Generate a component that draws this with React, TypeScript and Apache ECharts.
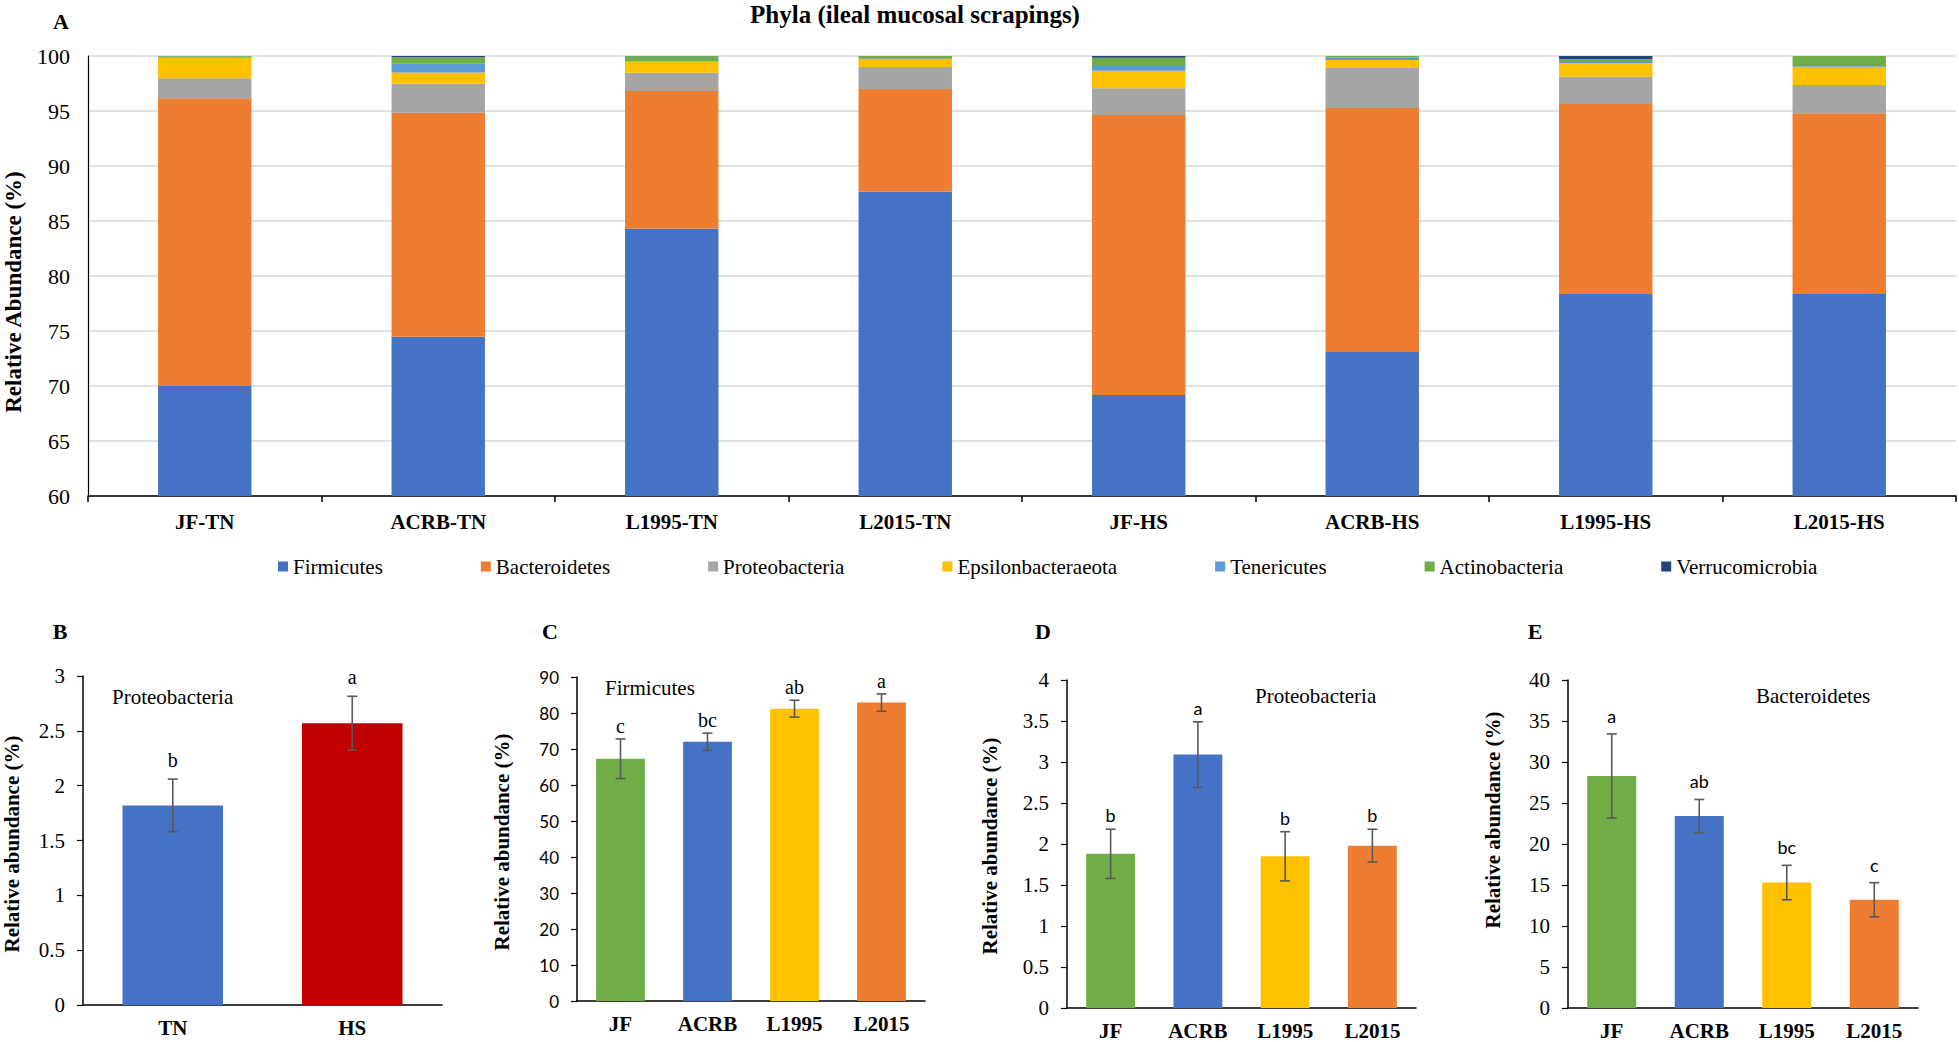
import React, { useEffect, useRef } from "react";
import * as echarts from "echarts";

// ---------- Panel A data ----------
const categoriesA = ["JF-TN", "ACRB-TN", "L1995-TN", "L2015-TN", "JF-HS", "ACRB-HS", "L1995-HS", "L2015-HS"];
const phylaNames = ["Firmicutes", "Bacteroidetes", "Proteobacteria", "Epsilonbacteraeota", "Tenericutes", "Actinobacteria", "Verrucomicrobia"];
const firmicutes = [70.0, 74.48, 84.3, 87.67, 69.18, 73.09, 78.36, 78.36];
const bacteroidetes = [26.15, 20.37, 12.52, 9.33, 25.46, 22.18, 17.28, 16.43];
const proteobacteria = [1.82, 2.63, 1.66, 2.0, 2.42, 3.64, 2.48, 2.57];
const epsilonbacteraeota = [1.87, 1.03, 1.0, 0.73, 1.6, 0.73, 1.24, 1.67];
const tenericutes = [0.1, 0.82, 0.02, 0.02, 0.52, 0.24, 0.18, 0.15];
const actinobacteria = [0.06, 0.57, 0.5, 0.25, 0.67, 0.12, 0.16, 0.82];
const verrucomicrobia = [0, 0.1, 0, 0, 0.15, 0, 0.3, 0];
const phylaSeries = [firmicutes, bacteroidetes, proteobacteria, epsilonbacteraeota, tenericutes, actinobacteria, verrucomicrobia];
const yTicksA = { min: 60, max: 100, interval: 5 };

// ---------- Panel B data ----------
const categoriesB = ["TN", "HS"];
const valuesB = [1.82, 2.57];
const errorsB = [0.24, 0.245];
const lettersB = ["b", "a"];

// ---------- Panels C, D, E data ----------
const categoriesCDE = ["JF", "ACRB", "L1995", "L2015"];
const valuesC = [67.3, 72.0, 81.2, 82.9];
const errorsC = [5.5, 2.4, 2.35, 2.4];
const lettersC = ["c", "bc", "ab", "a"];
const valuesD = [1.88, 3.09, 1.85, 1.98];
const errorsD = [0.3, 0.4, 0.3, 0.2];
const lettersD = ["b", "a", "b", "b"];
const valuesE = [28.3, 23.4, 15.3, 13.2];
const errorsE = [5.13, 2.03, 2.1, 2.08];
const lettersE = ["a", "ab", "bc", "c"];

// ---------- styles ----------
const phylaColors = ["#4472C4", "#ED7D31", "#A5A5A5", "#FFC000", "#5B9BD5", "#70AD47", "#264478"];
const colorsB = ["#4472C4", "#C00000"];
const colorsCDE = ["#70AD47", "#4472C4", "#FFC000", "#ED7D31"];
const SERIF = '"Liberation Serif", "Times New Roman", serif';
const SANS = 'Lato, "Noto Sans", sans-serif';

function buildOption() {
  const grid: any[] = [
    { left: 88, top: 56, width: 1868, height: 440 },
    { left: 83, top: 676, width: 359, height: 329 },
    { left: 577, top: 677, width: 348, height: 324 },
    { left: 1067, top: 680, width: 349, height: 328 },
    { left: 1568, top: 680, width: 350, height: 328 },
  ].map((g) => ({ ...g, containLabel: false, outerBoundsMode: "none" }));

  const xAxis: any[] = [
    {
      type: "category",
      gridIndex: 0,
      data: categoriesA,
      axisLine: { show: true, lineStyle: { color: "#000", width: 1.5 } },
      axisTick: { show: true, length: 6, lineStyle: { color: "#000", width: 1.5 } },
      axisLabel: { interval: 0, margin: 15, fontFamily: SERIF, fontWeight: "bold", fontSize: 21, color: "#000" },
      splitLine: { show: false },
    },
  ];
  const yAxis: any[] = [
    {
      type: "value",
      gridIndex: 0,
      min: yTicksA.min,
      max: yTicksA.max,
      interval: yTicksA.interval,
      axisLine: { show: true, lineStyle: { color: "#000", width: 1.2 } },
      axisTick: { show: false },
      axisLabel: { margin: 18, fontFamily: SERIF, fontSize: 22, color: "#000" },
      splitLine: { show: true, lineStyle: { color: "#D9D9D9", width: 1.5 } },
    },
  ];

  const series: any[] = phylaSeries.map((vals, i) => ({
    type: "bar",
    name: phylaNames[i],
    xAxisIndex: 0,
    yAxisIndex: 0,
    stack: "phyla",
    barWidth: "40%",
    data: vals,
    itemStyle: { color: phylaColors[i] },
  }));

  const panels = [
    { cats: categoriesB, vals: valuesB, errs: errorsB, letters: lettersB, colors: colorsB, max: 3, interval: 0.5, tickFont: SERIF, tickSize: 21, letterFont: SERIF, letterSize: 20, letterOffset: 19 },
    { cats: categoriesCDE, vals: valuesC, errs: errorsC, letters: lettersC, colors: colorsCDE, max: 90, interval: 10, tickFont: SANS, tickSize: 17, letterFont: SERIF, letterSize: 20, letterOffset: 13 },
    { cats: categoriesCDE, vals: valuesD, errs: errorsD, letters: lettersD, colors: colorsCDE, max: 4, interval: 0.5, tickFont: SERIF, tickSize: 21, letterFont: SANS, letterSize: 18, letterOffset: 14 },
    { cats: categoriesCDE, vals: valuesE, errs: errorsE, letters: lettersE, colors: colorsCDE, max: 40, interval: 5, tickFont: SERIF, tickSize: 21, letterFont: SANS, letterSize: 18, letterOffset: 18 },
  ];

  panels.forEach((p, k) => {
    const gi = k + 1;
    xAxis.push({
      type: "category",
      gridIndex: gi,
      data: p.cats,
      axisLine: { show: true, lineStyle: { color: "#000", width: 1.5 } },
      axisTick: { show: false },
      axisLabel: { interval: 0, margin: 12, fontFamily: SERIF, fontWeight: "bold", fontSize: 21, color: "#000" },
      splitLine: { show: false },
    });
    yAxis.push({
      type: "value",
      gridIndex: gi,
      min: 0,
      max: p.max,
      interval: p.interval,
      axisLine: { show: true, lineStyle: { color: "#000", width: 1.5 } },
      axisTick: { show: true, length: 6, lineStyle: { color: "#000", width: 1.2 } },
      axisLabel: { margin: 18, fontFamily: p.tickFont, fontSize: p.tickSize, color: "#000" },
      splitLine: { show: false },
    });
    series.push({
      type: "bar",
      xAxisIndex: gi,
      yAxisIndex: gi,
      barWidth: "56%",
      data: p.vals.map((v, j) => ({ value: v, itemStyle: { color: p.colors[j] } })),
    });
    series.push({
      type: "custom",
      xAxisIndex: gi,
      yAxisIndex: gi,
      z: 5,
      data: p.vals.map((v, j) => [j, v, p.errs[j]]),
      encode: { x: 0, y: 1 },
      renderItem: (params: any, api: any) => {
        const idx = api.value(0);
        const v = api.value(1);
        const e = api.value(2);
        const top = api.coord([idx, v + e]);
        const bot = api.coord([idx, v - e]);
        const x = top[0];
        const st = { stroke: "#595959", lineWidth: 1.6 };
        return {
          type: "group",
          children: [
            { type: "line", shape: { x1: x, y1: top[1], x2: x, y2: bot[1] }, style: st },
            { type: "line", shape: { x1: x - 5, y1: top[1], x2: x + 5, y2: top[1] }, style: st },
            { type: "line", shape: { x1: x - 5, y1: bot[1], x2: x + 5, y2: bot[1] }, style: st },
            {
              type: "text",
              x: x,
              y: top[1] - p.letterOffset,
              style: {
                text: p.letters[params.dataIndex],
                fontFamily: p.letterFont,
                fontSize: p.letterSize,
                fill: "#000",
                align: "center",
                verticalAlign: "middle",
              },
            },
          ],
        };
      },
    });
  });

  const txt = (text: string, x: number, y: number, opts: any = {}) => ({
    type: "text",
    x,
    y,
    rotation: opts.rotation || 0,
    style: {
      text,
      fontFamily: SERIF,
      fontSize: opts.size || 21,
      fontWeight: opts.bold ? "bold" : "normal",
      fill: "#000",
      align: opts.align || "center",
      verticalAlign: "middle",
    },
  });

  const graphic: any[] = [
    txt("A", 61, 21, { bold: true, size: 22 }),
    txt("Phyla (ileal mucosal scrapings)", 915, 14, { bold: true, size: 25 }),
    txt("Relative Abundance (%)", 13, 292, { bold: true, size: 23, rotation: Math.PI / 2 }),
    txt("B", 60, 631, { bold: true, size: 22 }),
    txt("C", 550, 631, { bold: true, size: 22 }),
    txt("D", 1043, 631, { bold: true, size: 22 }),
    txt("E", 1535, 631, { bold: true, size: 22 }),
    txt("Relative abundance (%)", 12, 844, { bold: true, size: 21, rotation: Math.PI / 2 }),
    txt("Relative abundance (%)", 502, 842, { bold: true, size: 21, rotation: Math.PI / 2 }),
    txt("Relative abundance (%)", 990, 846, { bold: true, size: 21, rotation: Math.PI / 2 }),
    txt("Relative abundance (%)", 1493, 820, { bold: true, size: 21, rotation: Math.PI / 2 }),
    txt("Proteobacteria", 112, 697, { align: "left" }),
    txt("Firmicutes", 605, 688, { align: "left" }),
    txt("Proteobacteria", 1255, 696, { align: "left" }),
    txt("Bacteroidetes", 1756, 696, { align: "left" }),
  ];

  return {
    animation: false,
    backgroundColor: "#fff",
    grid,
    xAxis,
    yAxis,
    series,
    graphic,
    legend: {
      show: true,
      left: 278,
      top: 556,
      orient: "horizontal",
      icon: "rect",
      itemWidth: 10,
      itemHeight: 10,
      itemGap: 98,
      padding: 0,
      data: phylaNames,
      textStyle: { fontFamily: SERIF, fontSize: 21, color: "#000" },
    },
    tooltip: { show: false },
  };
}

export default function App() {
  const ref = useRef<HTMLDivElement>(null);
  useEffect(() => {
    if (!ref.current) return;
    const chart = echarts.init(ref.current, null, { renderer: "svg" });
    chart.setOption(buildOption() as any);
    return () => chart.dispose();
  }, []);
  return (
    <div
      ref={ref}
      style={{ position: "absolute", left: 0, top: 0, width: 1959, height: 1042, background: "#fff" }}
    />
  );
}
